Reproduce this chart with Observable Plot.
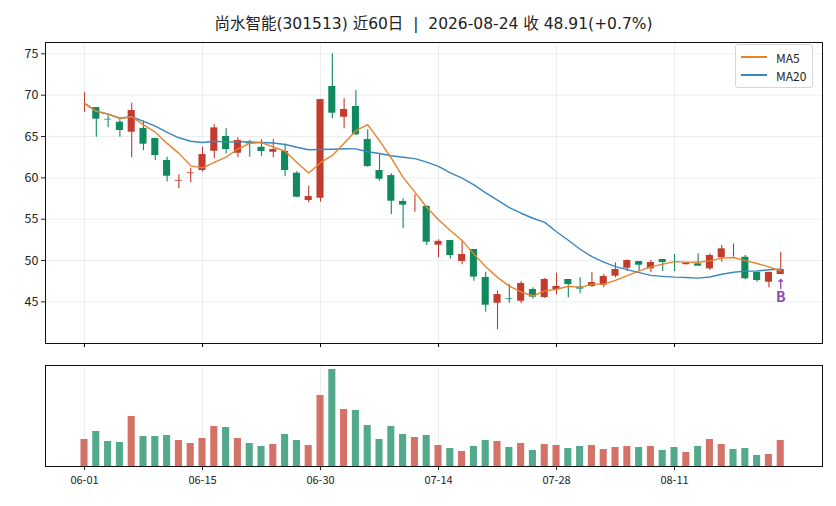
<!DOCTYPE html>
<html><head><meta charset="utf-8">
<script src="https://cdn.jsdelivr.net/npm/d3@7"></script>
<script src="https://cdn.jsdelivr.net/npm/@observablehq/plot@0.6"></script>
<style>
body{margin:0;background:#fff;font-family:"Noto Sans CJK SC","Noto Sans",sans-serif;}
#wrap{position:relative;width:836px;height:506px;overflow:hidden;}
#title{position:absolute;left:45px;width:777px;top:11px;text-align:center;font-size:15.5px;color:#222;white-space:pre;font-family:"DejaVu Sans","Noto Sans CJK SC",sans-serif;}
#topPanel{position:absolute;left:0;top:0;}
#volPanel{position:absolute;left:0;top:350px;}
#legend{position:absolute;left:735px;top:44px;width:76px;height:42px;border:1px solid #d6d6d6;border-radius:3px;background:rgba(255,255,255,0.85);font-size:12px;color:#222;}
#legend .row{position:absolute;left:5px;height:14px;display:flex;align-items:center;}
#legend .sw{width:26px;height:1.6px;margin-right:9px;}
</style></head>
<body><div id="wrap">
<div id="topPanel"></div><div id="volPanel"></div>
<div id="title">尚水智能(301513) 近60日  |  2026-08-24 收 48.91(+0.7%)</div>
<div id="legend">
<div class="row" style="top:5px"><div class="sw" style="background:#e8832b"></div>MA5</div>
<div class="row" style="top:23px"><div class="sw" style="background:#3a87c0"></div>MA20</div>
</div>
</div>
<script>
const dates = ["06-01","06-02","06-03","06-04","06-05","06-08","06-09","06-10","06-11","06-12",
"06-15","06-16","06-17","06-18","06-22","06-23","06-24","06-25","06-26","06-29",
"06-30","07-01","07-02","07-03","07-06","07-07","07-08","07-09","07-10","07-13",
"07-14","07-15","07-16","07-17","07-20","07-21","07-22","07-23","07-24","07-27",
"07-28","07-29","07-30","07-31","08-03","08-04","08-05","08-06","08-07","08-10",
"08-11","08-12","08-13","08-14","08-17","08-18","08-19","08-20","08-21","08-24"];
const open = [68.99,68.5,67.08,66.73,65.52,65.97,64.76,62.1,59.6,60.5,
60.89,63.22,65.0,62.98,64.3,63.7,63.1,63.19,60.56,57.26,
57.54,71.05,67.33,68.63,64.64,60.89,60.28,57.14,56.29,56.55,
51.86,52.42,49.88,51.34,47.95,44.84,45.38,45.08,46.5,45.53,
46.5,47.71,46.79,46.86,47.02,48.11,49.07,49.88,49.0,50.13,
50.41,49.5,49.6,49.0,50.33,50.81,50.4,48.55,47.38,48.31];
const close = [69.0,67.1,67.0,65.73,68.14,64.07,62.7,60.2,59.7,60.6,
62.82,66.05,63.43,64.52,64.1,63.19,63.43,60.89,57.66,57.74,
69.47,67.82,68.27,65.21,61.37,59.84,57.18,56.7,56.3,52.22,
52.32,50.61,50.73,48.0,44.6,45.89,45.3,47.22,45.57,47.71,
46.87,47.1,46.55,47.34,48.07,48.92,50.0,49.44,49.76,49.76,
50.4,49.7,49.32,50.61,51.42,50.8,47.8,47.59,48.57,48.91];
const high = [70.3,68.5,67.5,67.14,69.03,66.9,64.8,62.5,60.37,61.17,
63.7,66.41,65.93,64.84,64.52,64.6,64.6,64.1,60.76,58.99,
69.5,75.0,69.56,70.56,65.81,62.9,60.5,57.47,57.95,56.6,
52.5,52.42,52.33,51.34,48.59,46.3,47.1,47.47,46.7,47.83,
48.47,47.71,47.92,48.55,48.3,49.73,50.09,49.88,50.0,50.13,
50.73,49.75,50.82,50.82,51.82,52.0,50.6,48.55,48.6,51.0];
const low = [67.9,64.9,66.05,64.9,62.42,63.3,62.1,59.5,58.67,59.4,
60.7,62.3,62.9,62.42,62.5,62.6,62.42,60.16,57.6,57.0,
57.06,67.14,65.93,65.16,61.29,59.6,55.57,53.84,55.85,51.82,
50.33,50.2,49.49,47.5,43.75,41.63,44.84,44.77,45.33,45.41,
45.86,45.49,45.98,46.78,46.7,47.91,48.68,48.71,48.52,48.68,
48.68,49.45,49.32,48.8,49.8,50.4,47.67,47.38,46.7,48.31];
const volume = [81,105,75,72,150,90,90,93,78,69,
84,120,117,84,69,60,66,96,78,63,
213,291,171,168,123,81,120,96,87,93,
63,54,45,60,78,75,57,69,48,66,
63,54,60,63,51,57,60,57,60,48,
57,42,60,81,66,51,54,33,36,78];
const tickIdx = [0,10,20,30,40,50];
const yTicks = [45,50,55,60,65,70,75];
const signals = [{i:59, label:"B"}];

const rows = dates.map((d,i)=>({i, date:d, open:open[i], close:close[i], high:high[i], low:low[i], vol:volume[i]}));
const UP="#c23b2c", DOWN="#11895e";
const col = d => d.close >= d.open ? UP : DOWN;
const xDomain = [-3.305, 62.54];
const font = '"Noto Sans CJK SC","Noto Sans",sans-serif';

const priceChart = Plot.plot({
  width:836, height:350, marginLeft:45, marginRight:14, marginTop:42, marginBottom:7,
  style:{fontFamily:font, background:"transparent"},
  x:{domain:xDomain, axis:null},
  y:{domain:[39.97,76.37], axis:null},
  marks:[
    Plot.gridX(tickIdx,{stroke:"#000", strokeOpacity:0.09, strokeWidth:0.8}),
    Plot.gridY(yTicks,{stroke:"#000", strokeOpacity:0.09, strokeWidth:0.8}),
    Plot.ruleX(rows,{x:"i", y1:"low", y2:"high", stroke:col, strokeWidth:1.1}),
    Plot.rect(rows,{x1:d=>d.i-0.3, x2:d=>d.i+0.3, y1:"open", y2:"close", fill:col}),
    Plot.lineY(rows, Plot.windowY({k:20, anchor:"end", reduce:"mean"},{x:"i", y:"close", stroke:"#3a87c0", strokeWidth:1.4})),
    Plot.lineY(rows, Plot.windowY({k:5, anchor:"end", reduce:"mean"},{x:"i", y:"close", stroke:"#e8832b", strokeWidth:1.4})),
    Plot.vector(signals,{x:"i", y:d=>low[d.i], dy:5, length:9, rotate:0, anchor:"end", shape:"arrow", stroke:"#8e44ad", strokeWidth:1.3}),
    Plot.text(signals,{x:"i", y:d=>low[d.i], text:"label", dy:23, fill:"#8e44ad", fontSize:14, fontWeight:"bold"}),
    Plot.axisY({ticks:yTicks, tickSize:4, tickPadding:3, fontSize:12.5, label:null, color:"#222"}),
    Plot.axisX({ticks:tickIdx, tickSize:4, tickFormat:()=>"", label:null}),
    Plot.frame({stroke:"#111", strokeWidth:1})
  ]
});
document.getElementById("topPanel").appendChild(priceChart);

const volChart = Plot.plot({
  width:836, height:156, marginLeft:45, marginRight:14, marginTop:15, marginBottom:40,
  style:{fontFamily:font, background:"transparent"},
  x:{domain:xDomain, axis:null},
  y:{domain:[0,303], axis:null},
  marks:[
    Plot.gridX(tickIdx,{stroke:"#000", strokeOpacity:0.09, strokeWidth:0.8}),
    Plot.rectY(rows,{x1:d=>d.i-0.3, x2:d=>d.i+0.3, y:"vol", fill:col, fillOpacity:0.72}),
    Plot.axisX({ticks:tickIdx, tickSize:4, tickPadding:6, tickFormat:i=>dates[i], fontSize:11, label:null, color:"#222"}),
    Plot.frame({stroke:"#111", strokeWidth:1})
  ]
});
document.getElementById("volPanel").appendChild(volChart);
</script>
</body></html>
